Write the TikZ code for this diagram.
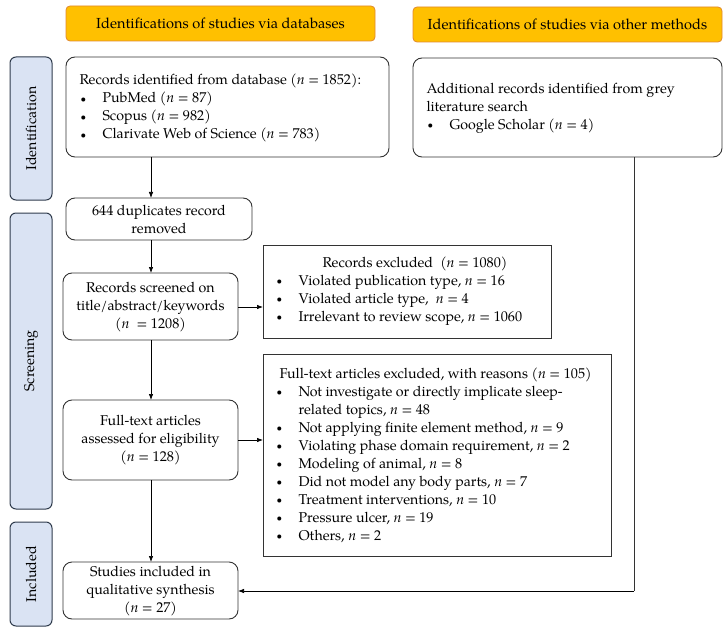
\documentclass[tikz,border=0pt]{standalone}
\usepackage{fontspec}
\setmainfont{TeX Gyre Pagella}
\usetikzlibrary{arrows.meta}
\definecolor{hdrfill}{HTML}{FFC000}
\definecolor{hdrdraw}{HTML}{E0892E}
\definecolor{sidefill}{HTML}{DAE3F3}
\definecolor{sidedraw}{HTML}{2F3B4C}
\definecolor{boxdraw}{HTML}{333333}
\newcommand{\bul}{\makebox[23bp][l]{\hspace*{1bp}\raisebox{0.5bp}{\scalebox{0.7}{\textbullet}}}}
\newcommand{\nn}{\textit{n}}
\tikzset{
  every node/.style={font=\fontsize{14.2bp}{18bp}\selectfont},
  hdrtxt/.style={font=\fontsize{14.6bp}{18bp}\selectfont},
  hdr/.style={draw=hdrdraw, fill=hdrfill, rounded corners=4bp, line width=0.8bp, inner sep=0pt},
  side/.style={draw=sidedraw, fill=sidefill, rounded corners=6bp, line width=1bp, inner sep=0pt},
  rbox/.style={draw=boxdraw, rounded corners=9bp, line width=0.9bp, inner sep=0pt},
  sbox/.style={draw=boxdraw, line width=0.9bp, inner sep=0pt},
  arr/.style={draw=black, line width=0.7bp, -{Latex[length=6bp,width=4.5bp]}},
  ln/.style={draw=boxdraw, line width=0.9bp}
}
\begin{document}
\begin{tikzpicture}[x=1bp,y=-1bp]
\useasboundingbox (0,0) rectangle (728,637);
% headers
\draw[hdr] (66,6) rectangle (375,41);
\node[hdrtxt] (h1) at (220.5,23.5) {Identifications of studies via databases};
\draw[hdr] (413,7) rectangle (722,42);
\node[hdrtxt] (h2) at (567.5,24.5) {Identifications of studies via other methods};
% side bars
\draw[side] (10,57) rectangle (52,200);
\node[rotate=90] (s1) at (31,128.5) {Identification};
\draw[side] (10,213) rectangle (52,509);
\node[rotate=90] (s2) at (31,361) {Screening};
\draw[side] (10,522) rectangle (52,626);
\node[rotate=90] (s3) at (31,574) {Included};
% boxes
\draw[rbox] (66,57) rectangle (389,157);
\node[align=left, anchor=west] (rid) at (76,108) {Records identified from database (\nn{} = 1852):\\
\bul PubMed (\nn{} = 87)\\
\bul Scopus (\nn{} = 982)\\
\bul Clarivate Web of Science (\nn{} = 783)};
\coordinate (ridb) at (151,157);
\draw[rbox] (413,58) rectangle (722,157);
\node[align=left, anchor=west] (oth) at (423,108) {Additional records identified from grey\\
literature search\\
\bul Google Scholar (\nn{} = 4)};
\coordinate (othb) at (634,157);
\draw[rbox] (66,198) rectangle (252,240);
\node[align=center] (dup) at (159,219) {644 duplicates record\\removed};
\coordinate (dupt) at (151,198);
\coordinate (dupb) at (151,240);
\draw[rbox] (63,273) rectangle (238,340);
\node[align=center] (scr) at (150.5,307) {Records screened on\\title/abstract/keywords\\(\nn{}\ \ = 1208)};
\coordinate (scrt) at (151,273);
\coordinate (scrb) at (151,340);
\coordinate (scrr) at (238,307);
\draw[sbox] (263,245) rectangle (551,338);
\node[align=left, anchor=west] (rex) at (272,291) {\hspace*{47bp}Records excluded\ \ (\nn{} = 1080)\\
\bul Violated publication type, \nn{} = 16\\
\bul Violated article type,\ \ \nn{} = 4\\
\bul Irrelevant to review scope, \nn{} = 1060};
\coordinate (rexl) at (263,307);
\draw[rbox] (63,400) rectangle (238,480);
\node[align=center] (ass) at (150.5,440) {Full-text articles\\assessed for eligibility\\(\nn{} = 128)};
\coordinate (asst) at (151,400);
\coordinate (assb) at (151,480);
\coordinate (assr) at (238,440);
\draw[sbox] (263,354) rectangle (611,556);
\node[align=left, anchor=west] (fex) at (272,455) {\hspace*{4bp}Full-text articles excluded, with reasons (\nn{} = 105)\\
\bul Not investigate or directly implicate sleep-\\
\hspace*{23bp}related topics, \nn{} = 48\\
\bul Not applying finite element method, \nn{} = 9\\
\bul Violating phase domain requirement, \nn{} = 2\\
\bul Modeling of animal, \nn{} = 8\\
\bul Did not model any body parts, \nn{} = 7\\
\bul Treatment interventions, \nn{} = 10\\
\bul Pressure ulcer, \nn{} = 19\\
\bul Others, \nn{} = 2};
\coordinate (fexl) at (263,440);
\draw[rbox] (63,562) rectangle (238,619);
\node[align=center] (inc) at (150.5,591) {Studies included in\\qualitative synthesis\\(\nn{} = 27)};
\coordinate (inct) at (151,562);
\coordinate (incr) at (238,591);
\coordinate (corner) at (634,591);
% connectors
\draw[arr] (ridb) -- (dupt);
\draw[arr] (dupb) -- (scrt);
\draw[arr] (scrr) -- (rexl);
\draw[arr] (scrb) -- (asst);
\draw[arr] (assr) -- (fexl);
\draw[arr] (assb) -- (inct);
\draw[ln] (othb) -- (corner);
\draw[arr] (corner) -- (incr);
\end{tikzpicture}
\end{document}
